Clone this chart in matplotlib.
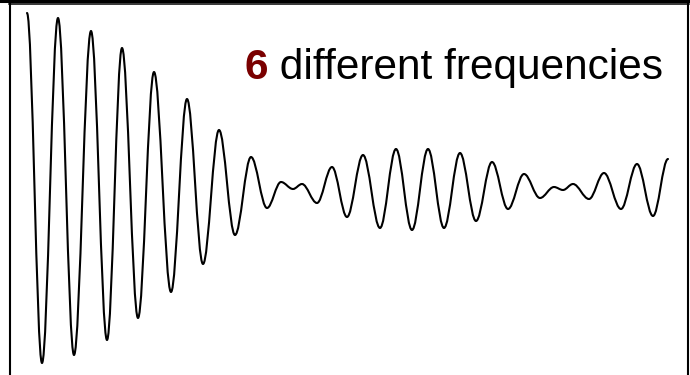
import matplotlib.pyplot as plt
from matplotlib.path import Path
from matplotlib.patches import PathPatch
from matplotlib.lines import Line2D

# turning points of the recorded signal (sample position, amplitude)
t_pts = [27, 42, 58, 74, 91, 107, 122, 138, 154, 171,
         187, 203, 219, 235, 251, 267, 281, 293, 302, 317,
         332, 347, 363, 380, 396, 412, 428, 444, 460, 476,
         492, 508, 524, 540, 554, 563, 573, 589, 604, 621,
         637, 653, 668]
amp_pts = [177, -173, 172, -165, 159, -150, 142, -128, 118, -102,
           91, -74, 60, -45, 33, -18, 8, 1, 6, -13,
           23, -27, 35, -38, 41, -40, 41, -38, 37, -31,
           28, -19, 16, -8, 3, 0, 6, -9, 17, -19,
           26, -26, 31]

title_num = "6"
title_rest = " different frequencies"

W, H = 690, 375
fig = plt.figure(figsize=(W / 100, H / 100), dpi=100)
ax = fig.add_axes([0, 0, 1, 1])
ax.set_xlim(0, W)
ax.set_ylim(190 - H, 190)
ax.axis("off")

# smooth half-waves between turning points (horizontal tangents at each extreme)
verts = [(t_pts[0], amp_pts[0])]
codes = [Path.MOVETO]
for i in range(1, len(t_pts)):
    x0, y0 = t_pts[i - 1], amp_pts[i - 1]
    x1, y1 = t_pts[i], amp_pts[i]
    dx = x1 - x0
    verts += [(x0 + dx * 0.36, y0), (x1 - dx * 0.36, y1), (x1, y1)]
    codes += [Path.CURVE4] * 3
ax.add_patch(PathPatch(Path(verts, codes), fill=False, lw=1.5,
                       edgecolor="black", capstyle="round", joinstyle="round"))

# frame
def fx(px):
    return px / W

def fy(py):
    return 1 - py / H

fig.add_artist(Line2D([0, 1], [fy(1.2), fy(1.2)], transform=fig.transFigure,
                      color="black", lw=2.2))
fig.add_artist(Line2D([fx(9), fx(689)], [fy(4.3), fy(4.3)], transform=fig.transFigure,
                      color="black", lw=1.1))
fig.add_artist(Line2D([fx(10), fx(10)], [fy(4), 0], transform=fig.transFigure,
                      color="black", lw=1.5))
fig.add_artist(Line2D([fx(688), fx(688)], [fy(4), 0], transform=fig.transFigure,
                      color="black", lw=1.5))

# caption: red bold digit followed by plain text
family = ["Liberation Sans", "DejaVu Sans"]
t6 = fig.text(fx(244), fy(79), title_num, fontsize=30.5, fontweight="bold",
              color="#7a0000", family=family, va="baseline", ha="left")
ax.annotate(title_rest, xy=(1, 0), xycoords=t6, va="bottom", ha="left",
            fontsize=30.5, color="black", family=family)

fig.savefig("out.png", dpi=100)
